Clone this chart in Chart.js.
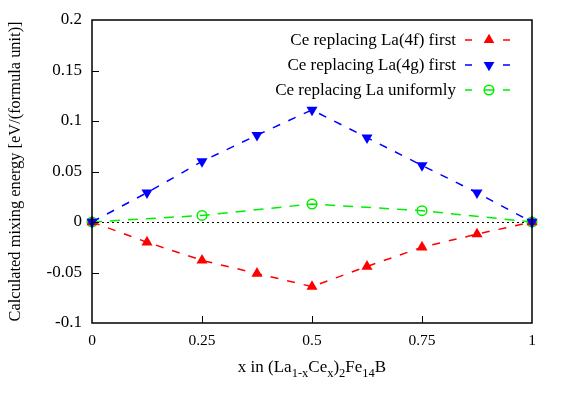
<!DOCTYPE html>
<html>
<head>
<meta charset="utf-8">
<script src="https://cdn.jsdelivr.net/npm/chart.js@4/dist/chart.umd.min.js"></script>
<style>
  html, body { margin: 0; padding: 0; background: #fff; }
  #wrap { width: 563px; height: 394px; position: relative; }
</style>
</head>
<body>
<div id="wrap"><canvas id="c" width="563" height="394"></canvas></div>
<script>
// ---- data ----
const xValues = [0, 0.125, 0.25, 0.375, 0.5, 0.625, 0.75, 0.875, 1];
const la4fFirst = [0, -0.020, -0.038, -0.051, -0.064, -0.044, -0.025, -0.012, 0];
const la4gFirst = [0, 0.029, 0.060, 0.086, 0.111, 0.0835, 0.056, 0.029, 0];
const uniformX = [0, 0.25, 0.5, 0.75, 1];
const uniformY = [0, 0.0065, 0.0178, 0.0112, 0];
const seriesLabels = ['Ce replacing La(4f) first', 'Ce replacing La(4g) first', 'Ce replacing La uniformly'];
const xTicks = [0, 0.25, 0.5, 0.75, 1];
const xTickLabels = ['0', '0.25', '0.5', '0.75', '1'];
const yTicks = [-0.1, -0.05, 0, 0.05, 0.1, 0.15, 0.2];
const yTickLabels = ['-0.1', '-0.05', '0', '0.05', '0.1', '0.15', '0.2'];
const yTitle = 'Calculated mixing energy [eV/(formula unit)]';

const FONT = '"Liberation Serif", "Times New Roman", serif';
const pts = (xs, ys) => xs.map((x, i) => ({ x: x, y: ys[i] }));

function drawMarker(ctx, style, x, y, color) {
  ctx.save();
  ctx.fillStyle = color; ctx.strokeStyle = color;
  if (style === 'up' || style === 'down') {
    const r = 6.2, s = style === 'up' ? -1 : 1;
    ctx.beginPath();
    ctx.moveTo(x, y + s * r);
    ctx.lineTo(x + r * 0.866, y - s * r * 0.5);
    ctx.lineTo(x - r * 0.866, y - s * r * 0.5);
    ctx.closePath(); ctx.fill();
  } else {
    ctx.lineWidth = 1.5;
    ctx.beginPath(); ctx.arc(x, y, 4.8, 0, Math.PI * 2); ctx.stroke();
  }
  ctx.restore();
}

const gnuplotPlugin = {
  id: 'gnuplot',
  beforeDatasetsDraw(chart) {
    const { ctx, chartArea: a, scales: { y } } = chart;
    const y0 = y.getPixelForValue(0);
    ctx.save();
    ctx.strokeStyle = '#000'; ctx.lineWidth = 1; ctx.setLineDash([2, 3]);
    ctx.beginPath(); ctx.moveTo(a.left, y0 + 0.5); ctx.lineTo(a.right, y0 + 0.5); ctx.stroke();
    ctx.restore();
  },
  afterDraw(chart) {
    const { ctx, chartArea: a, scales: { x, y } } = chart;
    ctx.save();
    // frame
    ctx.strokeStyle = '#000'; ctx.lineWidth = 1.5; ctx.setLineDash([]);
    ctx.strokeRect(a.left, a.top, a.right - a.left, a.bottom - a.top);
    // inward ticks
    ctx.lineWidth = 1;
    ctx.beginPath();
    xTicks.forEach(v => { const px = Math.round(x.getPixelForValue(v)) + 0.5; if (v > 0 && v < 1) { ctx.moveTo(px, a.bottom); ctx.lineTo(px, a.bottom - 7); } });
    yTicks.forEach(v => { const py = Math.round(y.getPixelForValue(v)) + 0.5; if (v > -0.1 && v < 0.2) { ctx.moveTo(a.left, py); ctx.lineTo(a.left + 7, py); } });
    ctx.stroke();
    // legend
    const styles = ['up', 'down', 'circle'];
    const colors = chart.data.datasets.map(d => d.borderColor);
    const rowsY = [40, 65, 90];
    ctx.font = '17px ' + FONT; ctx.fillStyle = '#000';
    ctx.textAlign = 'right'; ctx.textBaseline = 'middle';
    seriesLabels.forEach((lab, i) => {
      const ry = rowsY[i];
      ctx.fillStyle = '#000';
      ctx.fillText(lab, 456, ry + 1);
      ctx.strokeStyle = colors[i]; ctx.lineWidth = 1.5;
      ctx.beginPath();
      ctx.moveTo(465, ry); ctx.lineTo(472, ry);
      ctx.moveTo(503, ry); ctx.lineTo(510, ry);
      if (styles[i] === 'circle') { ctx.moveTo(484, ry); ctx.lineTo(494, ry); }
      ctx.stroke();
      drawMarker(ctx, styles[i], 489, ry, colors[i]);
    });
    // x title with subscripts
    const parts = [['x in (La', 0], ['1-x', 1], ['Ce', 0], ['x', 1], [')', 0], ['2', 1], ['Fe', 0], ['14', 1], ['B', 0]];
    const big = '17px ' + FONT, small = '12.5px ' + FONT;
    let total = 0;
    parts.forEach(p => { ctx.font = p[1] ? small : big; total += ctx.measureText(p[0]).width; });
    let cx = (a.left + a.right) / 2 - total / 2;
    const base = 372;
    ctx.textAlign = 'left'; ctx.textBaseline = 'alphabetic'; ctx.fillStyle = '#000';
    parts.forEach(p => {
      ctx.font = p[1] ? small : big;
      ctx.fillText(p[0], cx, base + (p[1] ? 5 : 0));
      cx += ctx.measureText(p[0]).width;
    });
    ctx.restore();
  }
};

new Chart(document.getElementById('c'), {
  type: 'scatter',
  data: {
    datasets: [
      { label: seriesLabels[0], data: pts(xValues, la4fFirst), showLine: true, order: 1,
        borderColor: '#ff0000', backgroundColor: '#ff0000', borderWidth: 1.5, borderDash: [8, 9],
        pointStyle: 'triangle', pointRadius: 6.4, pointBorderWidth: 0, pointBackgroundColor: '#ff0000', pointBorderColor: '#ff0000' },
      { label: seriesLabels[1], data: pts(xValues, la4gFirst), showLine: true, order: 0,
        borderColor: '#0000ff', backgroundColor: '#0000ff', borderWidth: 1.5, borderDash: [8, 9],
        pointStyle: 'triangle', rotation: 180, pointRadius: 6.4, pointBorderWidth: 0, pointBackgroundColor: '#0000ff', pointBorderColor: '#0000ff' },
      { label: seriesLabels[2], data: pts(uniformX, uniformY), showLine: true, order: 2,
        borderColor: '#00ee00', backgroundColor: 'rgba(0,0,0,0)', borderWidth: 1.5, borderDash: [10, 8],
        pointStyle: 'circle', pointRadius: 4.8, pointBorderWidth: 1.5, pointBackgroundColor: 'rgba(0,0,0,0)', pointBorderColor: '#00ee00' }
    ]
  },
  options: {
    responsive: false,
    animation: false,
    clip: false,
    layout: { padding: { left: 0, right: 31, top: 20, bottom: 0 } },
    plugins: { legend: { display: false }, tooltip: { enabled: false } },
    scales: {
      x: {
        type: 'linear', min: 0, max: 1,
        grid: { display: false, drawTicks: false },
        border: { display: false },
        afterBuildTicks: s => { s.ticks = xTicks.map(v => ({ value: v })); },
        ticks: { font: { family: FONT, size: 15.5 }, color: '#000', padding: 9, maxRotation: 0,
          callback: (v) => xTickLabels[xTicks.indexOf(v)] },
        afterFit: s => { s.height = 71; s.paddingLeft = 0; s.paddingRight = 0; }
      },
      y: {
        type: 'linear', min: -0.1, max: 0.2,
        grid: { display: false, drawTicks: false },
        border: { display: false },
        afterBuildTicks: s => { s.ticks = yTicks.map(v => ({ value: v })); },
        ticks: { font: { family: FONT, size: 17 }, color: '#000', padding: 10,
          callback: (v) => { const i = yTicks.findIndex(t => Math.abs(t - v) < 1e-9); return yTickLabels[i]; } },
        title: { display: true, text: yTitle, color: '#000', font: { family: FONT, size: 16.4 }, padding: { top: 6, bottom: 0 } },
        afterFit: s => { s.width = 92; s.paddingTop = 0; s.paddingBottom = 0; }
      }
    }
  },
  plugins: [gnuplotPlugin]
});
</script>
</body>
</html>
